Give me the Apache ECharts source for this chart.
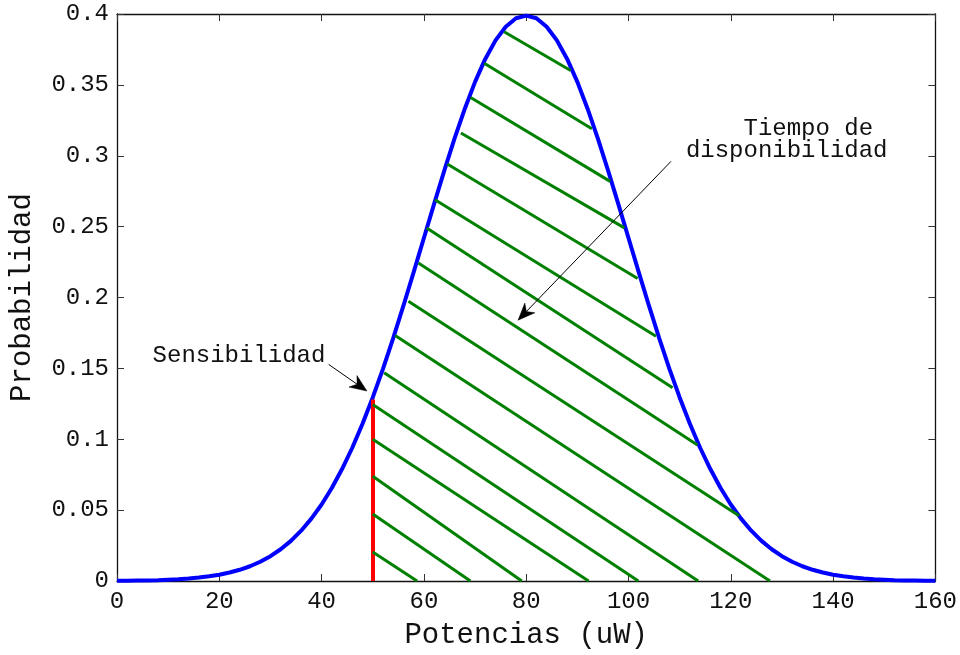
<!DOCTYPE html>
<html>
<head>
<meta charset="utf-8">
<script src="https://cdn.jsdelivr.net/npm/echarts@6/dist/echarts.min.js"></script>
<style>
  html, body { margin: 0; padding: 0; background: #ffffff; }
  #chart { width: 960px; height: 655px; }
</style>
</head>
<body>
<div id="chart"></div>
<script>
// Densidad de probabilidad de la potencia recibida (curva azul)
const potencias = [
  0, 2, 4, 6, 8, 10, 12, 14, 16, 18, 20, 22, 24, 26, 28, 30, 32, 34, 36, 38,
  40, 42, 44, 46, 48, 50, 52, 54, 56, 58, 60, 62, 64, 66, 68, 70, 72, 74, 76, 78,
  80,
  82, 84, 86, 88, 90, 92, 94, 96, 98, 100, 102, 104, 106, 108, 110, 112, 114, 116, 118, 120,
  122, 124, 126, 128, 130, 132, 134, 136, 138, 140, 142, 144, 146, 148, 150, 152, 154, 156, 158, 160
];
const probabilidad = [
  0.0001, 0.0002, 0.0003, 0.0004, 0.0006, 0.0009, 0.0012, 0.0017, 0.0024, 0.0033,
  0.0044, 0.0060, 0.0079, 0.0104, 0.0136, 0.0175, 0.0224, 0.0283, 0.0355, 0.0440,
  0.0540, 0.0656, 0.0790, 0.0940, 0.1109, 0.1295, 0.1497, 0.1714, 0.1942, 0.2179,
  0.2420, 0.2661, 0.2897, 0.3123, 0.3332, 0.3521, 0.3683, 0.3814, 0.3910, 0.3970,
  0.3989,
  0.3970, 0.3910, 0.3814, 0.3683, 0.3521, 0.3332, 0.3123, 0.2897, 0.2661, 0.2420,
  0.2179, 0.1942, 0.1714, 0.1497, 0.1295, 0.1109, 0.0940, 0.0790, 0.0656, 0.0540,
  0.0440, 0.0355, 0.0283, 0.0224, 0.0175, 0.0136, 0.0104, 0.0079, 0.0060, 0.0044,
  0.0033, 0.0024, 0.0017, 0.0012, 0.0009, 0.0006, 0.0004, 0.0003, 0.0002, 0.0001
];

// Marcas de los ejes
const xTicks = [0, 20, 40, 60, 80, 100, 120, 140, 160];
const xTickLabels = ['0', '20', '40', '60', '80', '100', '120', '140', '160'];
const yTicks = [0, 0.05, 0.1, 0.15, 0.2, 0.25, 0.3, 0.35, 0.4];
const yTickLabels = ['0', '0.05', '0.1', '0.15', '0.2', '0.25', '0.3', '0.35', '0.4'];

// Umbral de sensibilidad (línea roja)
const sensibilidadX = 50;
const sensibilidadY = 0.128;

// Rayado del área de disponibilidad: extremos de cada segmento
const rayadoX1 = [75.68, 71.78, 69.13, 67.24, 64.57, 62.17, 60.55, 58.92, 56.97, 54.38, 52.23, 50, 50, 50, 50, 50];
const rayadoY1 = [0.3875, 0.3653, 0.3411, 0.3160, 0.2942, 0.2690, 0.2491, 0.2244, 0.1974, 0.1732, 0.1470, 0.1246, 0.1000, 0.0739, 0.0472, 0.0204];
const rayadoX2 = [88.68, 92.83, 96.41, 99.20, 101.79, 105.38, 108.62, 113.49, 121.61, 127.66, 113.62, 101.93, 92.19, 79.13, 69.09, 58.66];
const rayadoY2 = [0.3601, 0.3190, 0.2819, 0.2491, 0.2134, 0.1727, 0.1364, 0.0960, 0.0460, 0, 0, 0, 0, 0, 0, 0];

// Anotaciones: texto y flechas
const notaTextos = ['Sensibilidad', '    Tiempo de', 'disponibilidad'];
const notaX = [6.96, 111.22, 111.22];
const notaY = [0.159, 0.3194, 0.3039];
const flechaInicio = [[41.38, 0.1528], [108.3, 0.296]];
const flechaPunta = [[48.86, 0.1340], [78.41, 0.184]];

const FONT = "'Liberation Mono', 'DejaVu Sans Mono', monospace";

function etiqueta(ticks, labels) {
  return function (v) {
    for (let i = 0; i < ticks.length; i++) {
      if (Math.abs(ticks[i] - v) < 1e-9) return labels[i];
    }
    return '';
  };
}

const chart = echarts.init(document.getElementById('chart'), null, { renderer: 'canvas' });

const ejeLinea = { show: true, onZero: false, lineStyle: { color: '#111', width: 1.3 } };
const ejeTick = { show: true, inside: true, length: 7, lineStyle: { color: '#333', width: 1 } };

const curva = potencias.map((x, i) => [x, probabilidad[i]]);
const rayado = rayadoX1.map((x, i) => ({ coords: [[x, rayadoY1[i]], [rayadoX2[i], rayadoY2[i]]] }));

chart.setOption({
  animation: false,
  backgroundColor: '#ffffff',
  grid: { left: 116, right: 23, top: 14, bottom: 73, containLabel: false },
  xAxis: [
    {
      type: 'value', min: 0, max: 160, interval: 20, position: 'bottom',
      axisLine: ejeLinea, axisTick: ejeTick, splitLine: { show: false },
      axisLabel: { show: true, margin: 9, color: '#111', fontFamily: FONT, fontSize: 24,
                   formatter: etiqueta(xTicks, xTickLabels) },
      name: 'Potencias (uW)', nameLocation: 'middle', nameGap: 40,
      nameTextStyle: { color: '#111', fontFamily: FONT, fontSize: 29 }
    },
    {
      type: 'value', min: 0, max: 160, interval: 20, position: 'top',
      axisLine: ejeLinea, axisTick: ejeTick, splitLine: { show: false },
      axisLabel: { show: false }
    }
  ],
  yAxis: [
    {
      type: 'value', min: 0, max: 0.4, interval: 0.05, position: 'left',
      axisLine: ejeLinea, axisTick: ejeTick, splitLine: { show: false },
      axisLabel: { show: true, margin: 8, color: '#111', fontFamily: FONT, fontSize: 24,
                   formatter: etiqueta(yTicks, yTickLabels) },
      name: 'Probabilidad', nameLocation: 'middle', nameGap: 80, nameRotate: 90,
      nameTextStyle: { color: '#111', fontFamily: FONT, fontSize: 29 }
    },
    {
      type: 'value', min: 0, max: 0.4, interval: 0.05, position: 'right',
      axisLine: ejeLinea, axisTick: ejeTick, splitLine: { show: false },
      axisLabel: { show: false }
    }
  ],
  series: [
    {
      name: 'Densidad', type: 'line', xAxisIndex: 0, yAxisIndex: 0,
      data: curva, showSymbol: false, symbol: 'none', smooth: false,
      lineStyle: { color: '#0000ff', width: 4 }, z: 3, clip: false
    },
    {
      name: 'Sensibilidad', type: 'lines', coordinateSystem: 'cartesian2d',
      xAxisIndex: 0, yAxisIndex: 0, symbol: 'none',
      data: [{ coords: [[sensibilidadX, 0], [sensibilidadX, sensibilidadY]] }],
      lineStyle: { color: '#ff0000', width: 4, opacity: 1 }, z: 4
    },
    {
      name: 'Disponibilidad', type: 'lines', coordinateSystem: 'cartesian2d',
      xAxisIndex: 0, yAxisIndex: 0, symbol: 'none',
      data: rayado,
      lineStyle: { color: '#008000', width: 3, opacity: 1 }, z: 5
    }
  ]
});

// Flechas y textos de anotación, situados en coordenadas de datos
function dibujarAnotaciones() {
  const elementos = [];
  const L = 17, W = 14, N = 5;
  for (let k = 0; k < flechaInicio.length; k++) {
    const s = chart.convertToPixel({ gridIndex: 0 }, flechaInicio[k]);
    const t = chart.convertToPixel({ gridIndex: 0 }, flechaPunta[k]);
    const dx = t[0] - s[0], dy = t[1] - s[1];
    const len = Math.sqrt(dx * dx + dy * dy);
    const ux = dx / len, uy = dy / len;
    const nx = -uy, ny = ux;
    const bx = t[0] - ux * L, by = t[1] - uy * L;
    const notch = [t[0] - ux * (L - N), t[1] - uy * (L - N)];
    elementos.push({
      type: 'line', z: 20,
      shape: { x1: s[0], y1: s[1], x2: notch[0], y2: notch[1] },
      style: { stroke: '#000', lineWidth: 1 }
    });
    elementos.push({
      type: 'polygon', z: 21,
      shape: { points: [t, [bx + nx * W / 2, by + ny * W / 2], notch, [bx - nx * W / 2, by - ny * W / 2]] },
      style: { fill: '#000', stroke: '#000', lineWidth: 0.5 }
    });
  }
  for (let k = 0; k < notaTextos.length; k++) {
    const p = chart.convertToPixel({ gridIndex: 0 }, [notaX[k], notaY[k]]);
    elementos.push({
      type: 'text', z: 22, x: p[0], y: p[1],
      style: { text: notaTextos[k], fill: '#111', font: '24px ' + FONT,
               textAlign: 'left', textVerticalAlign: 'middle' }
    });
  }
  chart.setOption({ graphic: elementos });
}
dibujarAnotaciones();
</script>
</body>
</html>
